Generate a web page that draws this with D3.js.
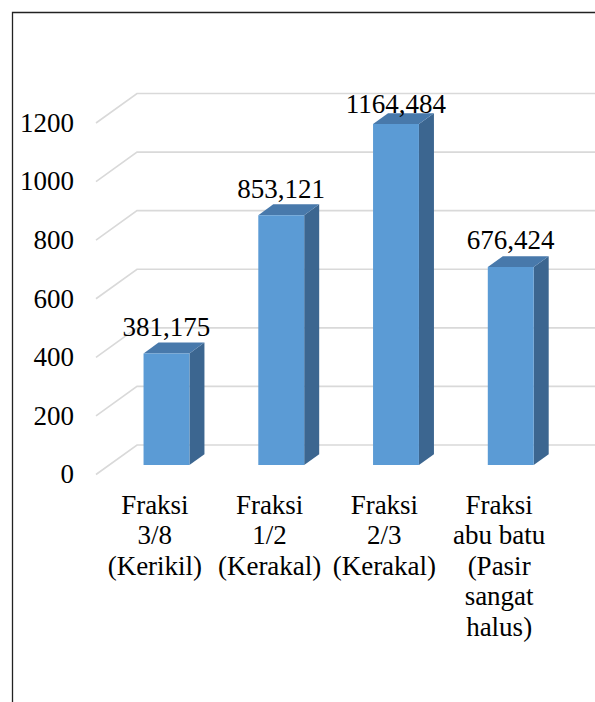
<!DOCTYPE html>
<html>
<head>
<meta charset="utf-8">
<script src="https://cdn.jsdelivr.net/npm/d3@7"></script>
<style>
  html, body { margin: 0; padding: 0; background: #fff; }
  #wrap { position: relative; width: 595px; height: 702px; overflow: hidden; }
  #wrap svg { position: absolute; left: 0; top: 0; }
  .lbl {
    position: absolute;
    white-space: nowrap;
    font-family: 'Liberation Serif', 'Times New Roman', Tinos, serif;
    font-size: 27px;
    line-height: 27px;
    color: #000;
  }
</style>
</head>
<body>
<div id="wrap"><svg id="chart" width="595" height="702"></svg></div>
<script>
// data
var categories = ['Fraksi 3/8 (Kerikil)', 'Fraksi 1/2 (Kerakal)', 'Fraksi 2/3 (Kerakal)', 'Fraksi abu batu (Pasir sangat halus)'];
var labelLines = [
    ['Fraksi', '3/8', '(Kerikil)'],
    ['Fraksi', '1/2', '(Kerakal)'],
    ['Fraksi', '2/3', '(Kerakal)'],
    ['Fraksi', 'abu batu', '(Pasir', 'sangat', 'halus)']
];
var values = [381.175, 853.121, 1164.484, 676.424];
var valueLabels = ['381,175', '853,121', '1164,484', '676,424'];
var yTicks = [0, 200, 400, 600, 800, 1000, 1200];

var svg = d3.select('#chart'),
    wrap = d3.select('#wrap'),
    DEPTH_X = 41,
    DEPTH_Y = -29.5,
    BAR_FRONT = 0.32,
    BAR_BACK = 0.686,
    BASELINE = 22.6; // baseline offset inside a 27px line box

var x = d3.scaleBand().domain(categories).range([96, 555]).padding(0),
    y = d3.scaleLinear().domain([0, 1200]).range([474.5, 123]);

function proj(px, py, d) {
    return [px + d * DEPTH_X, py + d * DEPTH_Y];
}

function facePoints(pts) {
    return pts.map(function (p) { return p.join(','); }).join(' ');
}

// frame (only left and top edges are visible in the crop)
svg.append('path')
    .attr('d', 'M12.5,702V12.5H595')
    .attr('fill', 'none')
    .attr('stroke', '#222')
    .attr('stroke-width', 1.3);

// gridlines: floor-to-back diagonal then along the back wall
svg.selectAll('path.grid')
    .data(yTicks)
    .join('path')
    .attr('class', 'grid')
    .attr('d', function (t) {
        var fy = y(t),
            back = proj(x.range()[0], fy, 1);
        return 'M' + x.range()[0] + ',' + fy + 'L' + back[0] + ',' + back[1] + 'H595';
    })
    .attr('fill', 'none')
    .attr('stroke', '#d9d9d9')
    .attr('stroke-width', 1.6);

// 3D bars
var barW = x.bandwidth() * 0.4;
var barGeom = values.map(function (v, i) {
    var cx = x(categories[i]) + x.bandwidth() / 2,
        x0 = cx - barW / 2,
        x1 = cx + barW / 2,
        yTop = y(v),
        yBot = y(0);
    return {
        fTL: proj(x0, yTop, BAR_FRONT),
        fTR: proj(x1, yTop, BAR_FRONT),
        fBL: proj(x0, yBot, BAR_FRONT),
        fBR: proj(x1, yBot, BAR_FRONT),
        bTL: proj(x0, yTop, BAR_BACK),
        bTR: proj(x1, yTop, BAR_BACK),
        bBR: proj(x1, yBot, BAR_BACK)
    };
});

svg.selectAll('polygon.side')
    .data(barGeom)
    .join('polygon')
    .attr('class', 'side')
    .attr('points', function (b) { return facePoints([b.fTR, b.bTR, b.bBR, b.fBR]); })
    .attr('fill', '#3c6690');
svg.selectAll('polygon.top')
    .data(barGeom)
    .join('polygon')
    .attr('class', 'top')
    .attr('points', function (b) { return facePoints([b.fTL, b.bTL, b.bTR, b.fTR]); })
    .attr('fill', '#4879ab');
svg.selectAll('polygon.front')
    .data(barGeom)
    .join('polygon')
    .attr('class', 'front')
    .attr('points', function (b) { return facePoints([b.fTL, b.fTR, b.fBR, b.fBL]); })
    .attr('fill', '#5b9bd5');

// all text items, flattened; x/y are anchor point and baseline
var texts = [];
yTicks.forEach(function (t) {
    texts.push({ s: String(t), x: 74, y: y(t) + 9.5, a: 'end' });
});
barGeom.forEach(function (b, i) {
    texts.push({ s: valueLabels[i], x: (b.fTL[0] + b.fTR[0]) / 2, y: Math.max(b.fTL[1] - 17, 114), a: 'middle' });
});
categories.forEach(function (c, i) {
    labelLines[i].forEach(function (line, j) {
        texts.push({ s: line, x: x(c) + x.bandwidth() / 2 + 1.5, y: 514.5 + j * 30.4, a: 'middle' });
    });
});

// HTML labels over the svg
wrap.selectAll('div.lbl')
    .data(texts)
    .join('div')
    .attr('class', 'lbl')
    .style('left', function (d) { return d.x + 'px'; })
    .style('top', function (d) { return (d.y - BASELINE) + 'px'; })
    .style('transform', function (d) { return d.a === 'end' ? 'translateX(-100%)' : 'translateX(-50%)'; })
    .text(function (d) { return d.s; });
</script>
</body>
</html>
